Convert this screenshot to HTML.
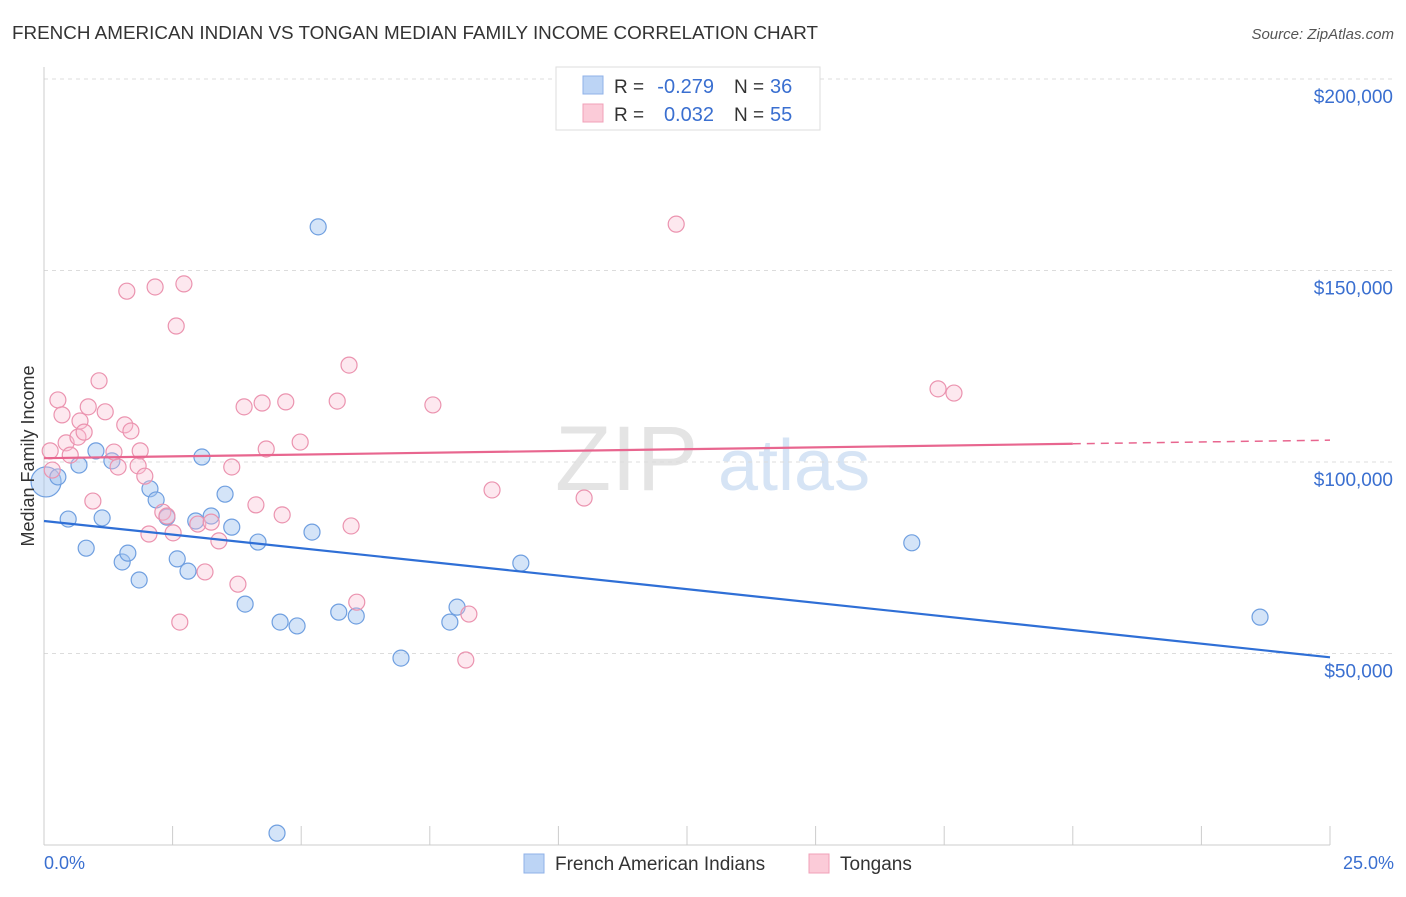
<!DOCTYPE html>
<html><head><meta charset="utf-8"><style>
body{margin:0;background:#fff;font-family:"Liberation Sans",sans-serif;}
svg text{font-family:"Liberation Sans",sans-serif;}
</style></head><body>
<svg id="chart" width="1406" height="892" xmlns="http://www.w3.org/2000/svg">
<text x="12" y="39" font-size="18" fill="#333" textLength="806" lengthAdjust="spacingAndGlyphs">FRENCH AMERICAN INDIAN VS TONGAN MEDIAN FAMILY INCOME CORRELATION CHART</text>
<text x="1394" y="39" font-size="15" fill="#555" font-style="italic" text-anchor="end">Source: ZipAtlas.com</text>
<g><text x="555" y="490" font-size="92" font-family="Liberation Serif" fill="#e4e4e4">ZIP</text><text x="718" y="490" font-size="72" fill="#d6e4f5">atlas</text></g>
<g id="grid"></g><g id="axes"></g><g id="marks"></g>
<text transform="translate(34,456) rotate(-90)" font-size="18" fill="#333" text-anchor="middle">Median Family Income</text>
<text x="44" y="869" font-size="18" fill="#3a6fd0">0.0%</text>
<text x="1394" y="869" font-size="18" fill="#3a6fd0" text-anchor="end">25.0%</text>
<g>
<rect x="556" y="67" width="264" height="63" fill="#fff" stroke="#ddd"/>
<rect x="583" y="76" width="20" height="18" fill="#bcd4f5" stroke="#8fb2e8"/>
<rect x="583" y="104" width="20" height="18" fill="#fbcbd8" stroke="#f0a0b8"/>
<text x="614" y="93" font-size="19" fill="#333">R =</text>
<text x="714" y="93" font-size="20" fill="#3a6fd0" text-anchor="end">-0.279</text>
<text x="734" y="93" font-size="19" fill="#333">N =</text>
<text x="770" y="93" font-size="20" fill="#3a6fd0">36</text>
<text x="614" y="121" font-size="19" fill="#333">R =</text>
<text x="714" y="121" font-size="20" fill="#3a6fd0" text-anchor="end">0.032</text>
<text x="734" y="121" font-size="19" fill="#333">N =</text>
<text x="770" y="121" font-size="20" fill="#3a6fd0">55</text>
</g>
<g>
<rect x="524" y="854" width="20" height="19" fill="#bcd4f5" stroke="#8fb2e8"/>
<text x="555" y="870" font-size="19" fill="#333">French American Indians</text>
<rect x="809" y="854" width="20" height="19" fill="#fbcbd8" stroke="#f0a0b8"/>
<text x="840" y="870" font-size="19" fill="#333">Tongans</text>
</g>
</svg>
<script>
const yTicks=[50000,100000,150000,200000];
const yTickLabels=["$50,000","$100,000","$150,000","$200,000"];
const xTicks=[0,2.5,5,7.5,10,12.5,15,17.5,20,22.5,25];
const blueX=[0.04,0.27,0.47,0.68,0.82,1.01,1.13,1.32,1.52,1.63,1.85,2.06,2.18,2.39,2.59,2.80,2.95,3.07,3.25,3.52,3.65,3.91,4.16,4.59,4.92,5.21,5.33,5.73,6.07,6.94,7.89,8.03,9.27,16.87,23.64,4.53];
const blueY=[94.8,96.1,85.1,99.2,77.5,102.9,85.4,100.3,73.9,76.2,69.2,93.0,90.1,85.6,74.7,71.5,84.6,101.3,85.9,91.6,83.0,62.9,79.1,58.2,57.2,81.7,161.4,60.8,59.8,48.8,58.2,62.1,73.6,78.9,59.5,3.1];
const pinkX=[0.12,0.16,0.27,0.35,0.43,0.51,0.66,0.70,0.78,0.86,0.95,1.07,1.19,1.36,1.44,1.57,1.61,1.69,1.83,1.87,1.96,2.04,2.16,2.31,2.39,2.51,2.57,2.64,2.72,2.99,3.13,3.25,3.40,3.65,3.77,3.89,4.12,4.24,4.32,4.63,4.70,4.98,5.70,5.93,5.97,6.08,7.56,8.20,8.26,8.71,10.50,12.29,17.38,17.69];
const pinkY=[102.9,97.9,116.2,112.3,105.0,101.8,106.5,110.7,107.8,114.4,89.8,121.2,113.1,102.6,98.7,109.7,144.6,108.1,99.0,102.9,96.3,81.2,145.7,86.9,85.9,81.5,135.5,58.2,146.5,83.8,71.3,84.3,79.4,98.7,68.1,114.4,88.8,115.4,103.4,86.2,115.7,105.2,115.9,125.3,83.3,63.4,114.9,48.3,60.3,92.7,90.6,162.1,119.1,118.0];
const blueTrend=[84.6,49.0];
const pinkTrend=[101.0,105.7];
const pinkSolidEnd=20;
const NS="http://www.w3.org/2000/svg";
const xs=v=>44+v/25*1286;
const ys=v=>845-v/50000*191.5;
const yk=v=>ys(v*1000);
function mk(tag,attrs,parent){const e=document.createElementNS(NS,tag);for(const k in attrs)e.setAttribute(k,attrs[k]);parent.appendChild(e);return e;}
const grid=document.getElementById('grid'),axes=document.getElementById('axes'),marks=document.getElementById('marks');
yTicks.forEach((t,i)=>{
 const l=mk('line',{x1:44,x2:1393,y1:ys(t),y2:ys(t),stroke:'#dcdcdc','stroke-dasharray':'4,4'},grid);
 
 
 const tx=mk('text',{x:1393,y:ys(t)+24,'font-size':19,fill:'#3a6fd0','text-anchor':'end'},grid);
 tx.textContent=yTickLabels[i];
 
 
});
const ax=mk('line',{x1:44,x2:44,y1:67,y2:845,stroke:'#ccc'},axes);


const bx=mk('line',{x1:44,x2:1330,y1:845,y2:845,stroke:'#ccc'},axes);


xTicks.forEach(t=>{const l=mk('line',{x1:xs(t),x2:xs(t),y1:826,y2:845,stroke:'#ccc'},axes);
 
 });
blueX.forEach((x,i)=>{const c=mk('circle',{cx:xs(x),cy:yk(blueY[i]),r:i==0?15:8,fill:'rgba(160,195,240,0.45)',stroke:'#6f9fe0','stroke-width':1.2},marks);
 
 });
pinkX.forEach((x,i)=>{const c=mk('circle',{cx:xs(x),cy:yk(pinkY[i]),r:8,fill:'rgba(248,190,208,0.35)',stroke:'#eb93af','stroke-width':1.2},marks);
 
 });
const bt=mk('line',{x1:xs(0),y1:yk(blueTrend[0]),x2:xs(25),y2:yk(blueTrend[1]),stroke:'#2f6fd6','stroke-width':2.2},marks);


const pm=pinkTrend[0]+(pinkTrend[1]-pinkTrend[0])*pinkSolidEnd/25;
const pt=mk('line',{x1:xs(0),y1:yk(pinkTrend[0]),x2:xs(pinkSolidEnd),y2:yk(pm),stroke:'#e8668f','stroke-width':2.2},marks);


const pd=mk('line',{x1:xs(pinkSolidEnd),y1:yk(pm),x2:xs(25),y2:yk(pinkTrend[1]),stroke:'#e8668f','stroke-width':1.5,'stroke-dasharray':'8,6'},marks);


</script>
</body></html>
